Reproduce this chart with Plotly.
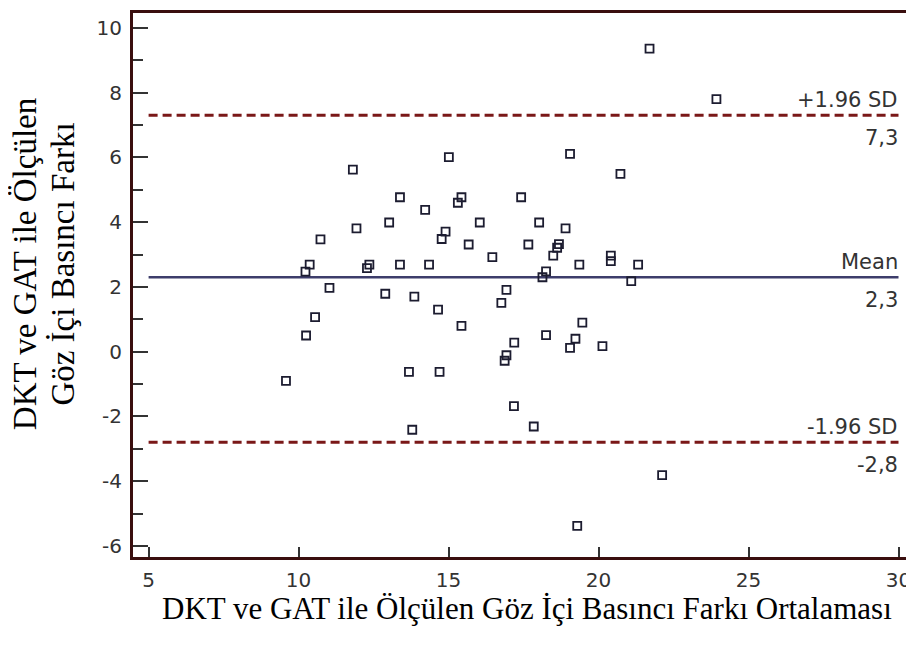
import plotly.graph_objects as go

# Bland-Altman data (mean of the two methods, difference)
mean_vals = [9.58, 10.25, 10.23, 10.37, 10.55, 10.73, 11.03, 11.81, 11.93, 12.28,
             12.36, 12.89, 13.02, 13.38, 13.38, 13.86, 13.68, 13.79, 14.22, 14.35,
             14.65, 14.70, 14.77, 14.90, 15.01, 15.31, 15.43, 15.43, 15.67, 16.04,
             16.46, 16.76, 16.87, 16.93, 16.93, 17.18, 17.19, 17.42, 17.66, 17.84,
             18.02, 18.13, 18.25, 18.25, 18.49, 18.62, 18.68, 18.90, 19.05, 19.05,
             19.23, 19.29, 19.36, 19.46, 20.13, 20.41, 20.41, 20.73, 21.09, 21.32,
             21.70, 22.12, 23.93]
diff_vals = [-0.90, 0.50, 2.47, 2.69, 1.07, 3.47, 1.97, 5.62, 3.81, 2.58,
             2.69, 1.79, 3.99, 4.77, 2.69, 1.70, -0.62, -2.41, 4.38, 2.69,
             1.30, -0.62, 3.48, 3.71, 6.01, 4.60, 4.77, 0.80, 3.31, 3.99,
             2.92, 1.51, -0.28, -0.11, 1.91, -1.68, 0.28, 4.77, 3.31, -2.31,
             3.99, 2.30, 2.48, 0.51, 2.97, 3.21, 3.32, 3.81, 6.11, 0.12,
             0.40, -5.38, 2.69, 0.90, 0.17, 2.97, 2.80, 5.49, 2.18, 2.69,
             9.36, -3.81, 7.80]

ref_names = ["+1.96 SD", "Mean", "-1.96 SD"]
ref_values = [7.3, 2.3, -2.8]
ref_value_text = ["7,3", "2,3", "-2,8"]
line_x = [5, 30]

x_tick_vals = [5, 10, 15, 20, 25, 30]
x_tick_text = ["5", "10", "15", "20", "25", "30"]
y_tick_vals = [-6, -4, -2, 0, 2, 4, 6, 8, 10]
y_tick_text = ["-6", "-4", "-2", "0", "2", "4", "6", "8", "10"]

x_title = "DKT ve GAT ile Ölçülen Göz İçi Basıncı Farkı Ortalaması"
y_title_lines = ["DKT ve GAT ile Ölçülen", "Göz İçi Basıncı Farkı"]

fig = go.Figure()

line_styles = [
    dict(color="#7a1818", width=3, dash="9px,5px"),
    dict(color="#3d3d6b", width=2.5, dash="solid"),
    dict(color="#7a1818", width=3, dash="9px,5px"),
]
for name, val, st in zip(ref_names, ref_values, line_styles):
    fig.add_trace(go.Scatter(x=line_x, y=[val, val], mode="lines", line=st,
                             hoverinfo="skip", showlegend=False))

fig.add_trace(go.Scatter(
    x=mean_vals, y=diff_vals, mode="markers",
    marker=dict(symbol="square-open", size=8, color="#1c1c30",
                line=dict(width=1.8, color="#1c1c30")),
    showlegend=False))

ann_font = dict(family="DejaVu Sans", size=21, color="#333333")
for name, val, vt in zip(ref_names, ref_values, ref_value_text):
    fig.add_annotation(x=line_x[1], y=val, text=name, showarrow=False,
                       xanchor="right", yanchor="bottom", xshift=1, yshift=1,
                       font=ann_font)
    fig.add_annotation(x=line_x[1], y=val, text=vt, showarrow=False,
                       xanchor="right", yanchor="top", xshift=1, yshift=-9,
                       font=ann_font)

title_font_x = dict(family="Liberation Serif", size=31, color="black")
title_font_y = dict(family="Liberation Serif", size=33, color="black")
fig.add_annotation(xref="paper", yref="paper", x=0.508, y=-0.095,
                   text=x_title, showarrow=False, xanchor="center", yanchor="middle",
                   font=title_font_x)
for xp, line in zip([-0.139, -0.0895], y_title_lines):
    fig.add_annotation(xref="paper", yref="paper", x=xp, y=0.5385,
                       text=line, showarrow=False, xanchor="center", yanchor="middle",
                       textangle=-90, font=title_font_y)

axis_common = dict(showline=True, mirror=True, linewidth=3, linecolor="#3a0e0e",
                   showgrid=False, zeroline=False, ticks="inside",
                   tickcolor="#333333", tickwidth=1.5,
                   tickfont=dict(family="DejaVu Sans", size=20, color="#333333"))

fig.update_layout(
    width=906, height=642,
    margin=dict(l=125, r=2, t=3, b=93),
    paper_bgcolor="white", plot_bgcolor="white",
    xaxis=dict(range=[4.48, 30.35], tickmode="array", tickvals=x_tick_vals,
               ticktext=x_tick_text, ticklen=10, ticklabelstandoff=3, **axis_common),
    yaxis=dict(range=[-6.34, 10.46], tickmode="array", tickvals=y_tick_vals,
               ticktext=y_tick_text, ticklen=15, ticklabelstandoff=4,
               minor=dict(dtick=1, tick0=1, ticks="inside", ticklen=10,
                          tickwidth=1.5, tickcolor="#333333", showgrid=False),
               **axis_common),
)

fig.write_html("out.html")
